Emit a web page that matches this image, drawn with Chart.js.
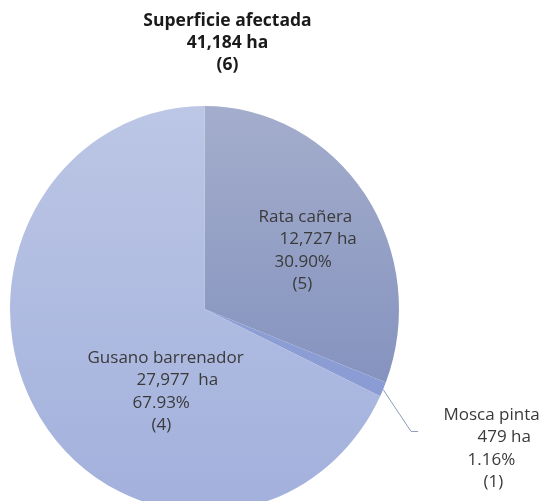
<!DOCTYPE html>
<html>
<head>
<meta charset="utf-8">
<script src="https://cdn.jsdelivr.net/npm/chart.js@4/dist/chart.umd.min.js"></script>
<style>
  html, body { margin: 0; padding: 0; background: #fff; overflow: hidden; }
  #wrap { width: 544px; height: 501px; overflow: hidden; }
</style>
</head>
<body>
<div id="wrap"><canvas id="pieChart" width="544" height="530"></canvas></div>
<script>
// Datos
const categories = ['Rata cañera', 'Mosca pinta', 'Gusano barrenador'];
const hectares = [12727, 479, 27977];
const percents = ['30.90%', '1.16%', '67.93%'];
const counts = [5, 1, 4];
const titleLines = ['Superficie afectada', '41,184 ha', '(6)'];

// Estilos
const gradientStops = [
    [[0, '#a4adcc'], [0.7, '#8492be'], [1, '#7d8bba']],
    [[0, '#94a4d8'], [1, '#8798d2']],
    [[0, '#bcc6e5'], [1, '#a2b0dc']]
];
const stretchY = 1.044; // el pastel original es ligeramente ovalado
const labelOffsets = [[54, -92], [239, 106], [-117, 49]];
const lineIndent = [[0, 21, 16, 34], [0, 34, 24, 40], [0, 49, 45, 64]];
const lineGap = 22.5;
const FONT = '"Open Sans", "Noto Sans", sans-serif';

function sliceGradient(context) {
    const chart = context.chart;
    const area = chart.chartArea;
    const stops = gradientStops[context.dataIndex];
    if (!area) return stops[0][1];
    const g = chart.ctx.createLinearGradient(0, area.top, 0, area.bottom);
    stops.forEach(s => g.addColorStop(s[0], s[1]));
    return g;
}

const ovalPlugin = {
    id: 'oval',
    beforeDatasetsDraw(chart) {
        const arc = chart.getDatasetMeta(0).data[0];
        const ctx = chart.ctx;
        ctx.save();
        ctx.translate(arc.x, arc.y);
        ctx.scale(1, stretchY);
        ctx.translate(-arc.x, -arc.y);
    },
    afterDatasetsDraw(chart) {
        chart.ctx.restore();
    }
};

const labelPlugin = {
    id: 'labels',
    afterDraw(chart) {
        const ctx = chart.ctx;
        const arcs = chart.getDatasetMeta(0).data;
        const cx = arcs[0].x, cy = arcs[0].y;
        ctx.save();

        // título
        ctx.fillStyle = '#1a1a1a';
        ctx.font = 'bold 17.5px ' + FONT;
        ctx.textAlign = 'center';
        ctx.textBaseline = 'middle';
        titleLines.forEach((t, i) => ctx.fillText(t, cx + 23, 21 + i * 22));

        // línea guía para Mosca pinta
        const a = arcs[1];
        const mid = (a.startAngle + a.endAngle) / 2;
        const px = a.x + a.outerRadius * Math.cos(mid);
        const py = a.y + a.outerRadius * stretchY * Math.sin(mid);
        ctx.strokeStyle = '#8e9cb8';
        ctx.lineWidth = 1;
        ctx.beginPath();
        ctx.moveTo(px, py);
        ctx.lineTo(px + 28, py + 42);
        ctx.lineTo(px + 35, py + 42);
        ctx.stroke();

        // etiquetas
        ctx.fillStyle = '#3a3a3a';
        ctx.font = '17px ' + FONT;
        ctx.textAlign = 'left';
        categories.forEach((name, i) => {
            const lines = [
                name,
                hectares[i].toLocaleString('en-US') + (i === 2 ? '  ha' : ' ha'),
                percents[i],
                '(' + counts[i] + ')'
            ];
            const x0 = cx + labelOffsets[i][0];
            const y0 = cy + labelOffsets[i][1];
            lines.forEach((t, j) => ctx.fillText(t, x0 + lineIndent[i][j], y0 + j * lineGap));
        });
        ctx.restore();
    }
};

new Chart(document.getElementById('pieChart'), {
    type: 'pie',
    data: {
        labels: categories,
        datasets: [{
            data: hectares,
            backgroundColor: sliceGradient,
            borderWidth: 0,
            hoverOffset: 0
        }]
    },
    options: {
        responsive: false,
        animation: false,
        events: [],
        layout: { padding: { left: 10, right: 145, top: 114, bottom: 26 } },
        plugins: {
            legend: { display: false },
            tooltip: { enabled: false }
        }
    },
    plugins: [ovalPlugin, labelPlugin]
});
</script>
</body>
</html>
